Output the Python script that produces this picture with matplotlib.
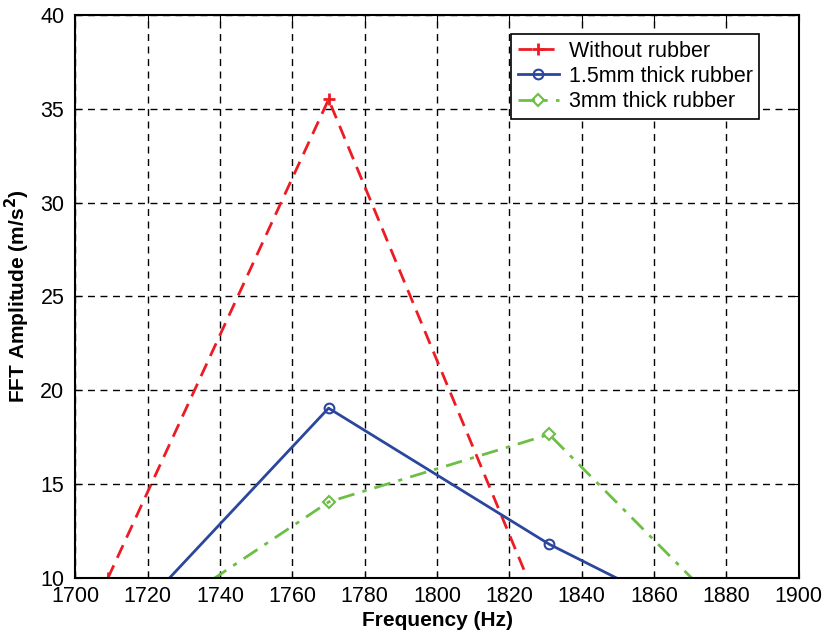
import numpy as np
import matplotlib.pyplot as plt

plt.rcParams['font.family'] = ['Liberation Sans', 'DejaVu Sans']

# data (Hz, m/s^2)
freq_red = [1709, 1770, 1831]
amp_red = [10.0, 35.5, 7.2]

freq = [1709, 1770, 1831, 1892]
amp_blue = [6.5, 19.05, 11.8, 5.9]
amp_green = [6.2, 14.05, 17.65, 5.8]

labels = ['Without rubber', '1.5mm thick rubber', '3mm thick rubber']

fig = plt.figure(figsize=(8.26, 6.41), dpi=100)
ax = fig.add_axes([0.0913, 0.0983, 0.8757, 0.8783])

ax.plot(freq_red, amp_red, color='#ED1C24', linestyle=(0, (5, 3)), lw=2,
        marker='+', ms=8, mew=2, label=labels[0])
ax.plot(freq, amp_blue, color='#2B479C', linestyle='-', lw=2,
        marker='o', ms=7, mew=1.5, mfc='none', label=labels[1])
ax.plot(freq, amp_green, color='#6DBE45', linestyle=(0, (6, 3, 1.5, 3)), lw=2,
        marker='D', ms=6.5, mew=1.5, mfc='none', label=labels[2])

ax.set_xlim(1700, 1900)
ax.set_ylim(10, 40)
ax.set_xticks(np.arange(1700, 1901, 20))
ax.set_yticks(np.arange(10, 41, 5))
ax.tick_params(direction='in', top=True, right=True, labelsize=15.5, length=5)
ax.tick_params(axis='y', pad=8)
ax.tick_params(axis='x', pad=6)
ax.grid(True, color='black', linestyle=(0, (5, 4)), lw=1)
for s in ax.spines.values():
    s.set_linewidth(1.5)

ax.set_xlabel('Frequency (Hz)', fontsize=15, fontweight='bold', labelpad=3)
ax.set_ylabel('FFT Amplitude (m/s$^\\mathbf{2}$)', fontsize=15, fontweight='bold', labelpad=6)

leg = ax.legend(loc='upper right', bbox_to_anchor=(0.945, 0.966), borderaxespad=0,
                fontsize=15.5, fancybox=False, edgecolor='black', framealpha=1,
                borderpad=0.3, labelspacing=0.2, handlelength=1.9, handletextpad=0.45)
leg.get_frame().set_linewidth(1.2)

fig.savefig('out.png', dpi=100)
